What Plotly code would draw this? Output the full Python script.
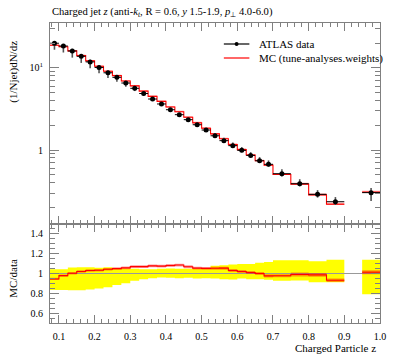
import plotly.graph_objects as go

# ---- data ----
bin_lo = [0.075, 0.100, 0.125, 0.150, 0.175, 0.200, 0.225, 0.250, 0.275, 0.300,
          0.325, 0.350, 0.375, 0.400, 0.425, 0.450, 0.475, 0.500, 0.525, 0.550,
          0.575, 0.600, 0.625, 0.650, 0.675, 0.700, 0.750, 0.800, 0.850, 0.950]
bin_hi = [0.100, 0.125, 0.150, 0.175, 0.200, 0.225, 0.250, 0.275, 0.300, 0.325,
          0.350, 0.375, 0.400, 0.425, 0.450, 0.475, 0.500, 0.525, 0.550, 0.575,
          0.600, 0.625, 0.650, 0.675, 0.700, 0.750, 0.800, 0.850, 0.900, 1.000]
data_val = [19.9, 18.4, 16.0, 13.8, 11.8, 10.1, 8.70, 7.66, 6.53, 5.63,
            4.87, 4.17, 3.63, 3.09, 2.69, 2.34, 2.03, 1.75, 1.49, 1.30,
            1.13, 0.99, 0.86, 0.74, 0.67, 0.515, 0.389, 0.289, 0.235, 0.303]
data_rel_up = [0.044, 0.044, 0.061, 0.064, 0.064, 0.057, 0.064, 0.054, 0.051, 0.047,
               0.044, 0.044, 0.047, 0.051, 0.047, 0.047, 0.051, 0.054, 0.078, 0.084,
               0.091, 0.095, 0.095, 0.108, 0.115, 0.135, 0.135, 0.125, 0.139, 0.139]
data_rel_dn = [0.166, 0.166, 0.169, 0.169, 0.162, 0.152, 0.138, 0.115, 0.098, 0.074,
               0.057, 0.047, 0.040, 0.043, 0.047, 0.043, 0.050, 0.047, 0.050, 0.057,
               0.060, 0.050, 0.057, 0.057, 0.064, 0.074, 0.071, 0.088, 0.088, 0.210]
mc_val = [18.8, 18.0, 16.05, 14.08, 12.15, 10.43, 9.08, 8.04, 6.90, 6.02,
          5.21, 4.49, 3.90, 3.34, 2.92, 2.50, 2.14, 1.84, 1.57, 1.37,
          1.164, 1.01, 0.869, 0.74, 0.654, 0.503, 0.385, 0.285, 0.219, 0.307]
mc_rel_err = [0.012, 0.012, 0.012, 0.012, 0.012, 0.012, 0.012, 0.012, 0.013, 0.013,
              0.013, 0.013, 0.013, 0.013, 0.013, 0.014, 0.014, 0.014, 0.014, 0.014,
              0.015, 0.015, 0.015, 0.016, 0.016, 0.016, 0.02, 0.02, 0.02, 0.02]

x_ticks = [0.1, 0.2, 0.3, 0.4, 0.5, 0.6, 0.7, 0.8, 0.9, 1.0]
x_ticktext = ["0.1", "0.2", "0.3", "0.4", "0.5", "0.6", "0.7", "0.8", "0.9", "1.0"]
y_ticks = [1, 10]
y_ticktext = ["1", "10<sup>1</sup>"]
y_minor = [0.2, 0.3, 0.4, 0.5, 0.6, 0.7, 0.8, 0.9, 2, 3, 4, 5, 6, 7, 8, 9, 20, 30]
r_ticks = [0.6, 0.8, 1.0, 1.2, 1.4]
r_ticktext = ["0.6", "0.8", "1", "1.2", "1.4"]

FONT = "Liberation Serif"
AX = "#808080"
RED = "#ff0000"

n = len(bin_lo)
centers = [(a + b) / 2 for a, b in zip(bin_lo, bin_hi)]
halfw = [(b - a) / 2 for a, b in zip(bin_lo, bin_hi)]
ratio = [m / d for m, d in zip(mc_val, data_val)]


def step_xy(vals):
    xs, ys = [], []
    for i in range(n):
        if i > 0 and abs(bin_lo[i] - bin_hi[i - 1]) > 1e-9:
            xs += [bin_hi[i - 1], None]
            ys += [vals[i - 1], None]
        xs.append(bin_lo[i])
        ys.append(vals[i])
    xs.append(bin_hi[-1])
    ys.append(vals[-1])
    return xs, ys


def rects(lo_vals, hi_vals):
    xs, ys = [], []
    for i in range(n):
        a, b = bin_lo[i], bin_hi[i]
        xs += [a, b, b, a, a, None]
        ys += [lo_vals[i], lo_vals[i], hi_vals[i], hi_vals[i], lo_vals[i], None]
    return xs, ys


fig = go.Figure()

# ----- main panel -----
bx, by = rects([m * (1 - e) for m, e in zip(mc_val, mc_rel_err)],
               [m * (1 + 2 * e) for m, e in zip(mc_val, mc_rel_err)])
fig.add_trace(go.Scatter(x=bx, y=by, fill="toself", fillcolor="rgba(255,0,0,0.4)",
                         line=dict(width=0), mode="lines", hoverinfo="skip",
                         xaxis="x", yaxis="y", showlegend=False))
sx, sy = step_xy(mc_val)
fig.add_trace(go.Scatter(x=sx, y=sy, mode="lines", line=dict(color=RED, width=1.1, shape="hv"),
                         xaxis="x", yaxis="y", showlegend=False, connectgaps=False))
fig.add_trace(go.Scatter(
    x=centers, y=data_val, mode="markers",
    marker=dict(color="black", size=5),
    error_x=dict(type="data", array=halfw, color="black", thickness=1, width=0),
    error_y=dict(type="data", symmetric=False,
                 array=[d * u for d, u in zip(data_val, data_rel_up)],
                 arrayminus=[d * l for d, l in zip(data_val, data_rel_dn)],
                 color="#555555", thickness=1.6, width=0),
    xaxis="x", yaxis="y", showlegend=False))

# ----- ratio panel -----
yx, yy = rects([1 - l for l in data_rel_dn], [1 + u for u in data_rel_up])
fig.add_trace(go.Scatter(x=yx, y=yy, fill="toself", fillcolor="#ffff00",
                         line=dict(width=0), mode="lines", hoverinfo="skip",
                         xaxis="x2", yaxis="y2", showlegend=False))
fig.add_trace(go.Scatter(x=[0.075, 1.0], y=[1, 1], mode="lines",
                         line=dict(color="#999999", width=1),
                         xaxis="x2", yaxis="y2", showlegend=False))
rbx, rby = rects([r * (1 - e) for r, e in zip(ratio, mc_rel_err)],
                 [r * (1 + e) for r, e in zip(ratio, mc_rel_err)])
fig.add_trace(go.Scatter(x=rbx, y=rby, fill="toself", fillcolor="rgba(255,0,0,0.4)",
                         line=dict(width=0), mode="lines", hoverinfo="skip",
                         xaxis="x2", yaxis="y2", showlegend=False))
rx, ry = step_xy(ratio)
fig.add_trace(go.Scatter(x=rx, y=ry, mode="lines", line=dict(color=RED, width=1.1, shape="hv"),
                         xaxis="x2", yaxis="y2", showlegend=False, connectgaps=False))

# ----- axes -----
common_x = dict(range=[0.075, 1.0], showgrid=False, zeroline=False, showline=True,
                linecolor=AX, linewidth=1, mirror="ticks", ticks="inside", ticklen=8,
                tickcolor=AX, tickvals=x_ticks, ticktext=x_ticktext,
                minor=dict(dtick=0.02, tick0=0.0, ticklen=4, ticks="inside", tickcolor=AX))

fig.update_layout(
    width=397, height=358,
    margin=dict(l=50, r=11, t=23, b=35),
    paper_bgcolor="white", plot_bgcolor="white",
    font=dict(family=FONT, size=10, color="black"),
    xaxis=dict(**common_x, anchor="y", showticklabels=False, matches="x2"),
    yaxis=dict(type="log", range=[-0.9, 1.545], domain=[0.33, 1.0], anchor="x",
               showgrid=False, zeroline=False, showline=True, linecolor=AX, linewidth=1,
               mirror="ticks", ticks="inside", ticklen=9, tickcolor=AX,
               tickvals=y_ticks, ticktext=y_ticktext, ticklabelstandoff=4,
               minor=dict(tickvals=y_minor, ticklen=5, ticks="inside", tickcolor=AX)),
    xaxis2=dict(**common_x, anchor="y2", showticklabels=True, ticklabelstandoff=4,
                tickfont=dict(family=FONT, size=10)),
    yaxis2=dict(range=[0.5, 1.5], domain=[0.0, 0.33], anchor="x2",
                showgrid=False, zeroline=False, showline=True, linecolor=AX, linewidth=1,
                mirror="ticks", ticks="inside", ticklen=9, tickcolor=AX,
                tickvals=r_ticks, ticktext=r_ticktext, ticklabelstandoff=4,
                minor=dict(dtick=0.05, tick0=0.0, ticklen=5, ticks="inside", tickcolor=AX)),
)


def px_x(p):
    return (p - 50) / 336.0


def px_y(p):
    return (323 - p) / 300.0


ann = [
    dict(text="Charged jet <i>z</i> (anti-<i>k</i><sub><i>t</i></sub>, R = 0.6, <i>y</i> 1.5-1.9, "
              "<i>p</i><sub>⊥</sub> 4.0-6.0)",
         x=0.0, y=px_y(12), xanchor="left", yanchor="middle", font=dict(size=10.6)),
    dict(text="(1/Njet)dN/dz", textangle=-90, x=px_x(12), y=px_y(72),
         xanchor="center", yanchor="middle", font=dict(size=11)),
    dict(text="MC/data", textangle=-90, x=px_x(12), y=px_y(278),
         xanchor="center", yanchor="middle", font=dict(size=11)),
    dict(text="Charged Particle z", x=px_x(384), y=px_y(348),
         xanchor="right", yanchor="middle", font=dict(size=11)),
    dict(text="ATLAS data", x=px_x(261), y=px_y(44), xanchor="left", yanchor="middle",
         font=dict(size=11)),
    dict(text="MC (tune-analyses.weights)", x=px_x(261), y=px_y(58), xanchor="left",
         yanchor="middle", font=dict(size=11)),
]
for a in ann:
    a.update(xref="paper", yref="paper", showarrow=False)
fig.update_layout(annotations=ann)

fig.update_layout(shapes=[
    dict(type="line", xref="paper", yref="paper", x0=px_x(227), x1=px_x(253),
         y0=px_y(44), y1=px_y(44), line=dict(color="black", width=1.2)),
    dict(type="circle", xref="paper", yref="paper", x0=px_x(238), x1=px_x(242),
         y0=px_y(46), y1=px_y(42), fillcolor="black", line=dict(color="black", width=0)),
    dict(type="line", xref="paper", yref="paper", x0=px_x(227), x1=px_x(253),
         y0=px_y(58), y1=px_y(58), line=dict(color=RED, width=1.2)),
])

# remove the browser's default 8px page margin so the figure sits at the window corner
fig.write_html("out.html",
               config={"displayModeBar": False},
               post_script="document.body.style.margin='0px';document.body.style.overflow='hidden';")
